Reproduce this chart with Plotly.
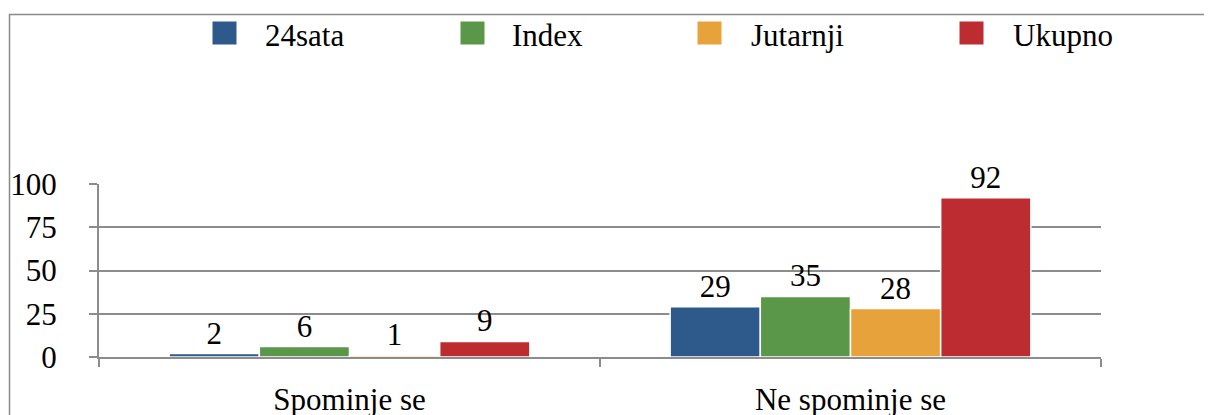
import plotly.graph_objects as go

categories = ["Spominje se", "Ne spominje se"]
series_names = ["24sata", "Index", "Jutarnji", "Ukupno"]
values_24sata = [2, 29]
values_index = [6, 35]
values_jutarnji = [1, 28]
values_ukupno = [9, 92]
y_ticks = [0, 25, 50, 75, 100]

series_values = [values_24sata, values_index, values_jutarnji, values_ukupno]
colors = ["#2E598B", "#5B9749", "#E8A23C", "#BC2C31"]

FONT = "Liberation Serif"
FS = 31
GRID = "#8C8C8C"

# page has an 8px body margin; work in screen pixels and convert
OFF = 8
W, H = 1212 - OFF, 415 - OFF
SL, SR, ST, SB = 99, 1101, 184, 357  # plot area in screen pixels
L, T = SL - OFF, ST - OFF
R, B = W - (SR - OFF), H - (SB - OFF)
PW, PH = SR - SL, SB - ST

def px_x(px):
    return (px - SL) / PW

def px_y(py):
    return (SB - py) / PH

fig = go.Figure()
for name, vals, col in zip(series_names, series_values, colors):
    fig.add_trace(go.Bar(
        x=categories, y=vals, name=name,
        marker=dict(color=col, line=dict(color="white", width=1.5)),
        text=[str(v) for v in vals], textposition="outside",
        textfont=dict(family=FONT, size=FS, color="black"),
        cliponaxis=False, showlegend=False,
    ))

shapes = []
annotations = []
# outer border
shapes.append(dict(type="rect", xref="paper", yref="paper",
                   x0=px_x(9.5), x1=px_x(1230), y0=px_y(430), y1=px_y(14.5),
                   line=dict(color="#8A8A8A", width=1.5), fillcolor="rgba(0,0,0,0)",
                   layer="below"))
# legend
legend_sq_left = [212, 460, 697, 959]
legend_txt_left = [263, 510, 749, 1011]
for name, col, sx, tx in zip(series_names, colors, legend_sq_left, legend_txt_left):
    shapes.append(dict(type="rect", xref="paper", yref="paper",
                       x0=px_x(sx), x1=px_x(sx + 25), y0=px_y(45), y1=px_y(21),
                       fillcolor=col, line=dict(color="white", width=1)))
    annotations.append(dict(text=name, xref="paper", yref="paper",
                            x=px_x(tx), y=px_y(35), xanchor="left", yanchor="middle",
                            showarrow=False, font=dict(family=FONT, size=FS, color="black")))

fig.update_layout(
    template="none",
    width=W, height=H,
    margin=dict(l=L, r=R, t=T, b=B, pad=0, autoexpand=False),
    paper_bgcolor="white", plot_bgcolor="white",
    barmode="group", bargap=0.28, bargroupgap=0.0,
    font=dict(family=FONT, size=FS, color="black"),
    shapes=shapes, annotations=annotations,
    showlegend=False,
)
fig.update_xaxes(
    automargin=False,
    showgrid=False, showline=True, linecolor=GRID, linewidth=2,
    ticks="outside", tickson="boundaries", ticklen=8, tickcolor=GRID, tickwidth=2,
    tickfont=dict(family=FONT, size=FS, color="black"), ticklabelstandoff=14,
)
fig.update_yaxes(
    automargin=False,
    range=[0, 100], tickvals=y_ticks, showgrid=True, gridcolor=GRID, gridwidth=2,
    showline=True, linecolor=GRID, linewidth=2, zeroline=False,
    ticks="outside", ticklen=8, tickcolor=GRID, tickwidth=2,
    tickfont=dict(family=FONT, size=FS, color="black"), ticklabelstandoff=26,
)

fig.write_html("out.html")
